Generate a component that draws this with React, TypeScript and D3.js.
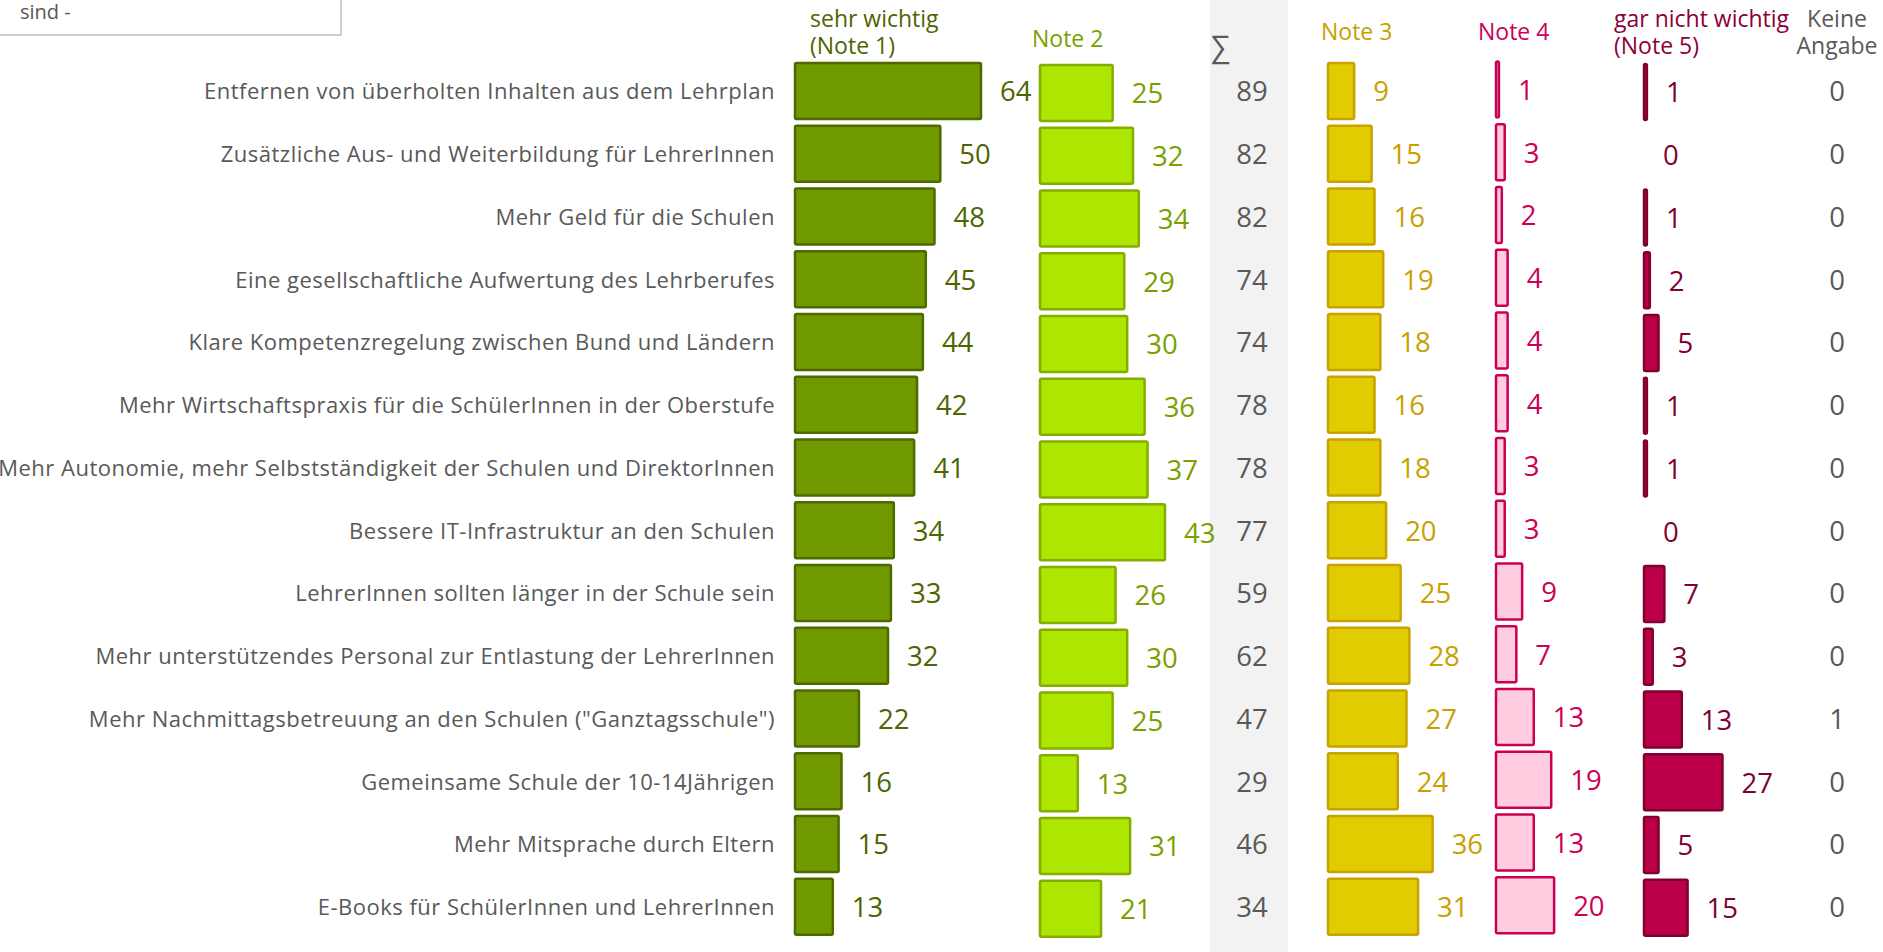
import React from 'react';
import * as d3 from 'd3';

// survey answers, one entry per row (top to bottom)
const labels = [
  'Entfernen von überholten Inhalten aus dem Lehrplan',
  'Zusätzliche Aus- und Weiterbildung für LehrerInnen',
  'Mehr Geld für die Schulen',
  'Eine gesellschaftliche Aufwertung des Lehrberufes',
  'Klare Kompetenzregelung zwischen Bund und Ländern',
  'Mehr Wirtschaftspraxis für die SchülerInnen in der Oberstufe',
  'Mehr Autonomie, mehr Selbstständigkeit der Schulen und DirektorInnen',
  'Bessere IT-Infrastruktur an den Schulen',
  'LehrerInnen sollten länger in der Schule sein',
  'Mehr unterstützendes Personal zur Entlastung der LehrerInnen',
  'Mehr Nachmittagsbetreuung an den Schulen ("Ganztagsschule")',
  'Gemeinsame Schule der 10-14Jährigen',
  'Mehr Mitsprache durch Eltern',
  'E-Books für SchülerInnen und LehrerInnen',
];

const note1 = [64, 50, 48, 45, 44, 42, 41, 34, 33, 32, 22, 16, 15, 13];
const note2 = [25, 32, 34, 29, 30, 36, 37, 43, 26, 30, 25, 13, 31, 21];
const sums = [89, 82, 82, 74, 74, 78, 78, 77, 59, 62, 47, 29, 46, 34];
const note3 = [9, 15, 16, 19, 18, 16, 18, 20, 25, 28, 27, 24, 36, 31];
const note4 = [1, 3, 2, 4, 4, 4, 3, 3, 9, 7, 13, 19, 13, 20];
const note5 = [1, 0, 1, 2, 5, 1, 1, 0, 7, 3, 13, 27, 5, 15];
const keineAngabe = [0, 0, 0, 0, 0, 0, 0, 0, 0, 0, 1, 0, 0, 0];

const width = 1883;
const height = 952;
const font = '"Open Sans", sans-serif';
const grey = '#595959';

const y = d3
  .scaleBand<string>()
  .domain(labels)
  .range([59.6, 59.6 + 14 * 62.75])
  .paddingInner(0.1076)
  .paddingOuter(0.0538);

const w = d3.scaleLinear().domain([0, 64]).range([0, 186]);

const columns = [
  { key: 'n1', values: note1, x0: 795, dy: 0, fill: '#709900', stroke: '#4d6a00', text: '#4d6600' },
  { key: 'n2', values: note2, x0: 1040, dy: 2, fill: '#ade600', stroke: '#85ad00', text: '#7a9f00' },
  { key: 'n3', values: note3, x0: 1328, dy: 0, fill: '#e0cc00', stroke: '#c8a200', text: '#c8a000' },
  { key: 'n4', values: note4, x0: 1496, dy: -1.5, fill: '#ffcce0', stroke: '#cc0052', text: '#cc0055' },
  { key: 'n5', values: note5, x0: 1644, dy: 1, fill: '#bb0049', stroke: '#80002f', text: '#800032' },
];

const Bars = ({ col }) => (
  <g>
    {col.values.map((v, i) => {
      const top = (y(labels[i]) ?? 0) + col.dy;
      const bw = w(v);
      const cy = top + y.bandwidth() / 2;
      return (
        <g key={i}>
          {v > 0 && (
            <rect
              x={col.x0}
              y={top}
              width={bw}
              height={y.bandwidth()}
              fill={col.fill}
              stroke={col.stroke}
              strokeWidth={2.5}
              rx={1.5}
            />
          )}
          <text x={col.x0 + bw + 19} y={cy + 10.5} fill={col.text} fontSize={27.5} fontFamily={font}>
            {v}
          </text>
        </g>
      );
    })}
  </g>
);

const App = () => {
  return (
    <svg
      width={width}
      height={height}
      style={{ position: 'absolute', left: 0, top: 0, background: '#fff' }}
      fontFamily={font}
    >
      {/* sum column background */}
      <rect x={1210} y={0} width={78} height={height} fill="#f2f2f2" />

      {/* cut-off box in the top left corner */}
      <rect x={-2} y={-10} width={343} height={45} fill="#fff" stroke="#bfbfbf" strokeWidth={1.5} />
      <text x={20} y={19} fill={grey} fontSize={20}>sind -</text>

      {/* headers */}
      <text x={810} y={27} fill="#4d6600" fontSize={23}>sehr wichtig</text>
      <text x={810} y={54} fill="#4d6600" fontSize={23}>(Note 1)</text>
      <text x={1032} y={47} fill="#7a9f00" fontSize={23}>Note 2</text>
      <text x={1211} y={57} fill={grey} fontSize={30}>∑</text>
      <text x={1321} y={40} fill="#c8a000" fontSize={23}>Note 3</text>
      <text x={1478} y={40} fill="#cc0055" fontSize={23}>Note 4</text>
      <text x={1614} y={27} fill="#8c0039" fontSize={23}>gar nicht wichtig</text>
      <text x={1614} y={54} fill="#8c0039" fontSize={23}>(Note 5)</text>
      <text x={1837} y={27} fill={grey} fontSize={23} textAnchor="middle">Keine</text>
      <text x={1837} y={54} fill={grey} fontSize={23} textAnchor="middle">Angabe</text>

      {/* row labels */}
      {labels.map((l) => (
        <text
          key={l}
          x={775}
          y={(y(l) ?? 0) + y.bandwidth() / 2 + 8.5}
          fill={grey}
          fontSize={22}
          letterSpacing={0.5}
          textAnchor="end"
        >
          {l}
        </text>
      ))}

      {columns.map((c) => (
        <Bars key={c.key} col={c} />
      ))}

      {/* sum and no-answer columns */}
      {sums.map((v, i) => (
        <text
          key={'s' + i}
          x={1252}
          y={(y(labels[i]) ?? 0) + y.bandwidth() / 2 + 10.5}
          fill={grey}
          fontSize={27.5}
          textAnchor="middle"
        >
          {v}
        </text>
      ))}
      {keineAngabe.map((v, i) => (
        <text
          key={'k' + i}
          x={1837}
          y={(y(labels[i]) ?? 0) + y.bandwidth() / 2 + 10.5}
          fill={grey}
          fontSize={27.5}
          textAnchor="middle"
        >
          {v}
        </text>
      ))}
    </svg>
  );
};

export default App;
